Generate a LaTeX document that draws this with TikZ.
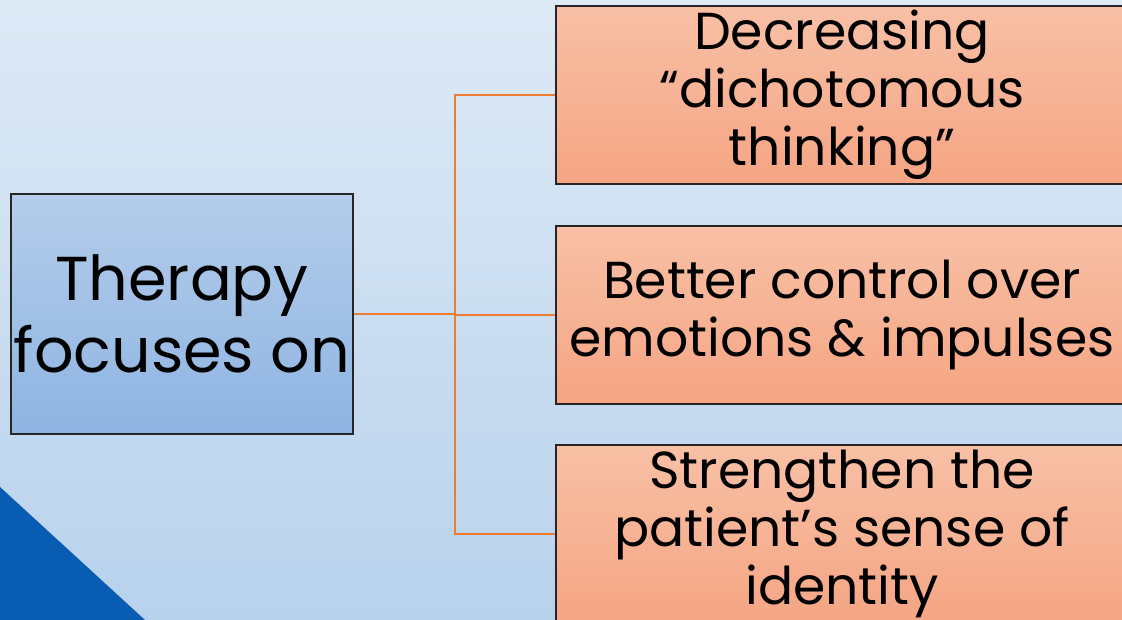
\documentclass[tikz,border=0pt]{standalone}
\usepackage{fontspec}
\setmainfont{Poppins}
\definecolor{bgtop}{RGB}{222,234,246}
\definecolor{bgbottom}{RGB}{184,210,236}
\definecolor{bluetop}{RGB}{180,205,234}
\definecolor{bluebottom}{RGB}{142,180,226}
\definecolor{salmontop}{RGB}{248,192,166}
\definecolor{salmonbottom}{RGB}{245,165,131}
\definecolor{linkorange}{RGB}{237,125,49}
\definecolor{cornerblue}{RGB}{8,92,178}
\begin{document}
\begin{tikzpicture}[x=1pt,y=1pt,
    leftbox/.style={draw=black!85, line width=1.2pt, top color=bluetop, bottom color=bluebottom,
      minimum width=342pt, minimum height=240pt, inner sep=0pt, align=center,
      font=\fontsize{62}{72}\selectfont},
    rightbox/.style={draw=black!85, line width=1.2pt, top color=salmontop, bottom color=salmonbottom,
      minimum width=572pt, minimum height=178pt, inner sep=0pt, align=center,
      font=\fontsize{52}{58}\selectfont},
    link/.style={draw=linkorange, line width=2.8pt}]

    \useasboundingbox (0,0) rectangle (1122,620);
    \clip (0,0) rectangle (1122,620);

    % background
    \shade[top color=bgtop, bottom color=bgbottom] (0,0) rectangle (1122,620);
    \fill[cornerblue] (0,0) -- (0,133) -- (145,0) -- cycle;

    % boxes
    \node[leftbox] (therapy) at (182,306) {Therapy\\focuses on};
    \node[rightbox] (dicho) at (842,525) {Decreasing\\“dichotomous\\thinking”};
    \node[rightbox] (control) at (842,305) {Better control over\\emotions \& impulses};
    \node[rightbox] (identity) at (842,86) {Strengthen the\\patient’s sense of\\identity};

    % connectors
    \coordinate (trunk) at (455,306);
    \draw[link] (therapy.east) -- (trunk);
    \draw[link] (trunk) |- (dicho.west);
    \draw[link] (trunk) |- (control.west);
    \draw[link] (trunk) |- (identity.west);
\end{tikzpicture}
\end{document}
